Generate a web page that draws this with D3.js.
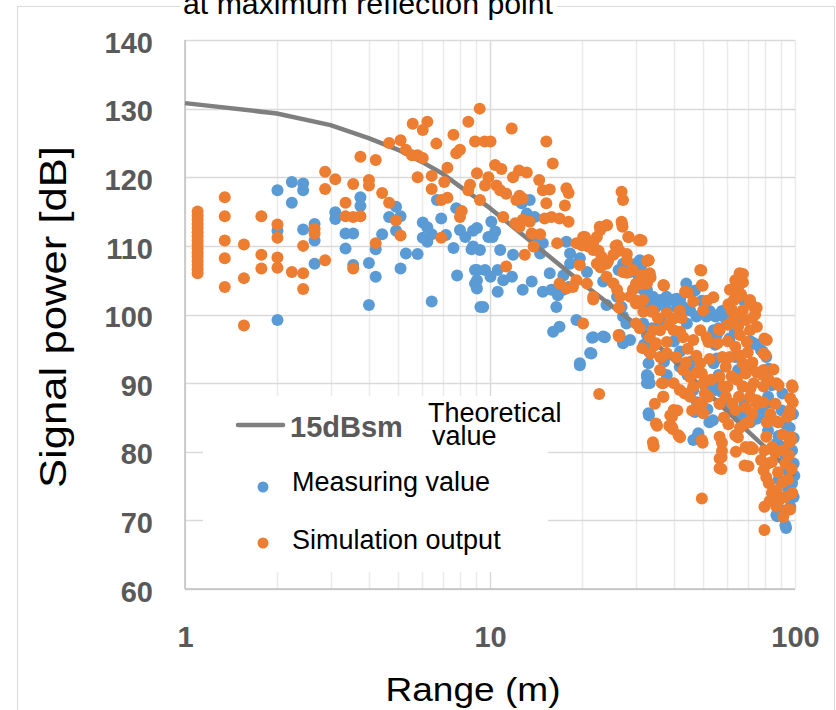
<!DOCTYPE html>
<html><head><meta charset="utf-8">
<script src="https://cdn.jsdelivr.net/npm/d3@7"></script>
<style>
html,body{margin:0;padding:0;background:#fff;}
svg{display:block;}
text{font-family:"Liberation Sans",Arial,sans-serif;}
</style></head>
<body>
<svg id="chart" width="836" height="710"></svg>
<script>
// ---------------- data ----------------
const titleText = "at maximum reflection point";
const xTickValues = [1, 10, 100];
const yTickValues = [60, 70, 80, 90, 100, 110, 120, 130, 140];
const legendLabels = ["15dBsm", "Theoretical", "value", "Measuring value", "Simulation output"];

// Theoretical value (15dBsm)
const theoRange = [1, 2, 3, 4, 5, 6, 7, 8, 9, 10, 20, 30, 40, 50, 60, 70, 80, 90, 100];
const theoPower = [130.8, 129.3, 127.6, 125.7, 124.0, 122.2, 120.5, 118.6, 117.0, 115.5, 104.6, 98.6, 93.3, 89.2, 85.9, 83.0, 80.6, 78.5, 76.5];

// Measuring value [range m, power dB]
const measured = [
[2.01,118.1],[2.24,119.3],[2.24,116.3],[2.44,119.1],[2.44,118.1],[2.01,112.2],[2.01,99.2],[2.44,112.4],[2.66,113.2],[2.66,110.8],[2.66,107.4],[3.11,114.9],[3.11,113.9],[3.36,111.8],[3.56,111.8],[3.36,109.6],[3.56,107.2],[3.76,117.1],[3.76,115.8],[4.01,107.5],[4.01,101.4],[4.22,109.5],[4.22,105.5],[4.43,111.7],[4.67,114.2],[4.92,115.7],[4.92,112.2],[5.09,114.3],[5.09,106.7],[5.30,108.9],[5.79,108.8],[6.02,113.4],[6.23,112.7],[6.02,111.2],[6.23,110.6],[6.44,111.7],[6.44,101.9],[6.7,116.7],[6.92,114.0],[7.17,111.6],[7.59,109.7],[7.75,115.5],[7.8,105.7],[7.97,112.3],[8.3,111.3],[8.8,112.2],[8.7,109.5],[9.06,106.5],[8.93,104.5],[9.06,103.8],[9.3,101.1],
[10.1,113.5],[9.06,112.6],[10.4,112.1],[10.2,111.3],[9.88,111.3],[9.27,109.4],[8.8,109.9],[10.8,109.4],[11.9,108.7],[8.93,106.5],[9.63,106.5],[9.06,105.0],[10.04,105.5],[10.6,106.5],[11.05,105.0],[11.8,105.5],[10.6,103.3],[9.5,101.1],[12.8,103.6],[13.7,104.8],[14.9,103.3],[16.5,101.1],[16.1,97.5],[16.9,98.2],[12.7,116.2],[13.5,116.7],[13.2,114.7],[14.0,114.2],[14.2,110.4],[14.9,110.4],[14.6,108.9],[15.7,106.0],[17.4,105.7],[15.9,103.6],[17.4,103.6],[16.7,102.8],[18.1,104.0],[17.8,110.6],[18.3,107.4],[19.7,108.2],[20.8,106.2],[18.3,108.9],[19.2,99.2],[21.8,96.7],[23.8,96.7],[21.5,94.3],[19.7,92.9],[23.5,104.8],[24.1,101.4],[27.0,101.1],[26.1,102.6],[27.3,107.4],[30.1,107.4],[30.5,106.0],[28.8,106.2],[26.4,106.5],[27.3,99.7],[28.0,98.7],[27.3,95.8],[28.8,96.3],[32.7,103.6],[33.9,102.1],[36.1,101.9],[37.9,102.6],[35.0,101.1],[31.8,98.7],[33.1,97.7],[33.9,95.3],[33.1,90.9],[33.4,90.0],[33.1,85.6],
[21.6,96.6],[23.5,96.8],[21.3,94.4],[19.7,92.6],[33.2,85.3],[48.0,82.3],[31.2,106.9],[30.8,105.4],[32.7,102.9],[35.3,102.0],[38.0,102.0],[40.1,102.2],[42.0,102.2],[41.1,101.0],[36.3,99.0],[34.0,98.0],[32.7,97.0],[32.0,95.6],[33.2,94.6],[32.7,91.2],[27.3,96.1],[26.6,97.0],[56.2,100.0],[57.6,100.5],[56.2,98.0],[55.4,97.0],[54.7,95.6],[55.4,93.6],[56.2,91.2],[57.6,88.7],[60.2,87.2],[62.0,86.2],[66.6,85.3],[71.4,84.3],[74.9,84.8],[78.3,86.2],[82.1,87.2],[83.8,89.7],[82.1,92.1],[78.3,94.6],[74.9,95.6],[71.4,96.1],[42.0,100.5],[45.6,93.1],[44.4,91.2],[46.3,89.2],[47.7,87.2],[51.6,89.2],[51.6,86.2],[52.4,84.3],[42.0,94.6],[40.1,96.1],[37.2,93.1],[38.0,91.2],[83.8,84.8],[88.3,82.3],[89.8,80.8],
[31.0,107.9],[31.8,103.6],[34.2,102.6],[36.1,102.1],[39.5,102.1],[41.0,102.3],[38.0,100.6],[32.7,101.1],[43.0,101.1],[45.3,100.6],[44.2,98.7],[47.5,99.7],[51.3,99.7],[33.1,92.9],[32.7,90.9],[32.7,90.0],[40.8,93.8],[41.9,92.4],[45.3,91.9],[46.4,89.0],[47.0,85.8],[53.8,84.6],[48.2,82.7],[46.4,81.7],[54.9,99.7],[54.1,97.7],[54.9,95.8],[54.1,92.9],[55.7,90.4],[54.9,89.0],[56.6,87.0],[63.7,93.8],[65.1,91.9],[67.4,89.5],[68.3,87.0],[65.1,85.1],[73.3,95.8],[77.4,94.8],[80.5,93.8],[80.5,90.9],[81.6,88.0],[81.0,85.1],[81.6,83.1],[86.9,81.2],[93.0,79.3],[94.3,77.3],[97.8,75.4],[99.0,73.4],[96.5,72.0],[86.9,70.8],[93.0,69.3],[99.0,78.3],[97.8,80.2],[93.5,68.9],[87.5,70.6],
[90.5,86.0],[93.5,84.0],[96.0,83.5],[99.0,82.0],[98.5,85.5],[91.0,88.5],[99.5,76.5],[95.0,74.5],[88.5,76.0],[90.0,71.5],[59.0,99.5],[61.0,96.5],[63.5,97.5],[66.0,99.5],[68.0,102.0],[44.0,104.5],[47.0,103.5],[49.5,102.0],[52.5,100.5]
];

// Simulation output [range m, power dB]
const simulated = [
[1.1,115.0],[1.1,114.4],[1.1,113.8],[1.1,113.2],[1.1,112.6],[1.1,112.0],[1.1,111.4],[1.1,110.8],[1.1,110.2],[1.1,109.6],[1.1,109.0],[1.1,108.4],[1.1,107.8],[1.1,107.2],[1.1,106.6],[1.1,106.0],
[1.35,117.1],[1.35,114.3],[1.35,110.8],[1.35,108.2],[1.35,104.0],[1.56,110.2],[1.56,105.3],[1.56,98.4],[1.78,114.3],[1.78,108.7],[1.78,106.7],[2.01,113.1],[2.01,111.2],[2.01,108.3],[2.01,106.8],[2.24,106.2],[2.44,110.0],[2.44,106.0],[2.44,103.7],[2.66,111.8],[2.66,112.5],[2.88,120.8],[2.88,118.3],[3.11,119.7],[2.88,107.9],[3.36,116.3],[3.36,114.3],[3.56,119.0],[3.56,114.2],[3.56,106.7],[3.76,123.0],[3.76,114.3],[4.01,119.6],[4.01,118.8],[4.22,122.5],[4.22,110.4],[4.43,117.7],[4.67,125.0],[4.67,116.3],[4.92,113.7],[5.09,125.4],[5.09,111.5],[5.30,124.0],[5.55,123.2],[5.79,123.2],[6.02,122.8],[5.58,127.8],[6.02,126.9],[6.23,128.1],[5.79,120.0],[6.44,120.2],[6.44,118.3],[6.67,124.9],[6.92,116.7],[6.92,111.2],[7.08,119.3],[7.25,117.0],[7.25,121.4],[7.59,126.2],[7.75,123.5],[7.97,124.0],[8.49,128.1],[8.08,115.1],[7.97,114.2],[8.93,125.2],[9.06,120.6],[8.6,118.9],[8.49,118.1],[9.25,130.0],
[9.6,125.2],[10.04,125.2],[11.78,127.1],[15.3,125.2],[16.06,122.0],[10.39,121.8],[10.9,121.2],[9.88,120.0],[11.9,120.0],[12.45,121.0],[13.2,120.7],[14.5,119.6],[9.63,118.8],[10.5,118.8],[10.8,118.1],[11.3,117.6],[12.5,117.3],[12.8,116.9],[14.9,118.1],[15.7,118.2],[17.8,118.4],[18.1,117.7],[9.27,116.7],[12.2,116.7],[15.3,116.2],[17.6,115.9],[11.05,114.2],[12.1,113.3],[12.8,113.8],[13.5,113.5],[15.1,114.0],[15.9,114.2],[16.9,114.0],[18.1,113.5],[12.5,112.8],[13.7,111.8],[14.6,111.7],[13.9,109.9],[13.0,108.7],[11.3,107.0],[16.6,110.4],
[27.0,117.9],[27.3,116.7],[22.9,112.8],[24.1,113.0],[27.0,113.5],[27.2,112.8],[28.4,111.3],[31.0,110.9],[20.2,111.3],[19.2,110.4],[20.0,110.1],[21.0,109.9],[21.8,109.4],[22.4,111.3],[26.1,110.1],[25.4,108.7],[23.2,108.4],[24.1,107.4],[22.4,107.4],[28.1,107.9],[27.3,106.2],[29.4,106.5],[33.1,107.9],[31.4,105.7],[33.4,105.7],[30.1,104.5],[19.7,107.2],[20.8,104.5],[21.8,102.6],[16.9,104.5],[17.8,103.8],[18.7,104.0],[19.2,105.0],[24.1,105.5],[25.4,104.5],[26.1,103.6],[26.7,102.6],[29.4,103.6],[28.8,102.6],[30.1,101.6],[31.8,102.1],[33.9,100.4],[31.8,100.4],[30.1,98.7],[31.0,98.0],[26.4,97.0],[20.2,98.7],[22.8,88.4],[34.2,97.7],[35.0,95.8],[33.6,94.3],[36.6,93.8],[36.1,91.9],[36.6,90.0],[34.7,87.0],[35.0,84.1],[34.2,81.4],[37.0,88.0],
[27.1,113.2],[24.2,113.0],[23.0,112.3],[20.5,111.3],[28.5,111.3],[30.8,110.8],[25.8,110.0],[21.8,110.5],[22.7,109.3],[26.6,109.3],[24.4,107.8],[28.1,108.8],[32.7,107.8],[23.0,106.9],[28.1,106.1],[33.6,105.4],[31.2,104.4],[37.2,104.2],[21.8,102.2],[26.5,101.0],[30.3,102.0],[49.3,106.4],[49.8,104.2],[44.4,103.2],[26.5,96.8],[31.6,95.1],[34.4,80.8],[35.3,83.8],[38.7,83.8],[39.7,83.3],[42.0,82.1],[41.1,86.0],[39.0,85.3],[49.8,81.3],[57.6,81.3],[57.6,80.1],[65.0,82.1],[71.0,80.4],[67.5,105.9],[67.5,104.7],[63.5,103.9],[66.6,102.9],[71.4,101.7],[74.9,101.0],[74.0,100.0],[62.0,100.5],[60.2,98.5],[56.2,97.8],[60.2,96.1],[80.8,96.3],[80.0,94.1],[88.3,89.7],[98.3,89.4],[98.3,87.2],[95.9,85.3],[88.3,84.3],[80.8,84.3],[78.8,87.2],[74.9,91.6],[78.3,91.2],[71.4,89.2],[74.9,87.0],[70.5,84.3],[72.8,80.4],[86.3,79.9],[95.9,81.3],[97.4,81.8],
[31.4,110.8],[33.1,107.9],[33.4,106.0],[31.8,105.0],[32.7,104.5],[37.0,104.3],[43.6,103.3],[41.9,100.6],[46.4,101.9],[50.0,100.6],[48.9,106.5],[49.5,104.3],[34.2,100.6],[38.0,100.2],[40.0,99.4],[36.1,97.7],[33.4,96.7],[34.7,95.5],[38.0,96.0],[40.0,97.7],[43.0,96.7],[46.4,96.3],[48.9,97.7],[51.3,96.7],[36.1,93.8],[38.0,94.3],[40.8,93.8],[43.0,91.9],[45.3,90.9],[37.0,90.0],[40.0,90.0],[41.9,89.0],[37.0,88.0],[40.0,86.1],[39.5,85.1],[39.5,83.6],[41.5,82.4],[48.9,92.9],[49.5,91.4],[50.0,90.0],[50.6,88.5],[49.5,87.0],[50.0,85.6],[49.5,81.7],[49.5,73.2],[46.4,89.5],[45.3,88.0],[48.2,87.0],[56.6,97.7],[55.7,95.8],[57.8,93.8],[59.3,92.4],[56.6,90.9],[58.4,89.5],[56.6,87.0],[59.3,88.0],[62.3,87.0],[63.7,86.1],[56.6,82.2],[56.6,79.0],[56.6,77.6],[63.7,82.4],[61.2,103.6],[63.7,105.0],[65.1,103.6],[63.0,102.1],[65.8,106.0],[65.1,102.6],[62.3,100.6],[67.4,100.6],[71.2,102.1],[73.3,101.1],[68.9,99.2],[65.1,98.2],[71.2,97.7],[75.0,98.2],[61.2,93.8],[63.7,95.3],[67.4,92.9],[68.9,91.4],[73.3,90.0],[67.4,89.5],[71.2,88.0],[75.0,87.5],[78.9,89.5],[78.9,91.9],[68.9,84.1],[68.9,80.7],[68.3,78.0],[79.4,96.5],[78.9,94.3],[86.9,90.0],[86.2,87.0],[86.9,84.4],[97.8,89.7],[96.5,87.8],[96.5,86.1],[94.3,85.1],[79.4,80.2],[81.6,78.3],[80.5,76.3],[82.1,75.4],[86.9,74.4],[93.0,73.4],[94.3,71.5],[79.4,72.0],[86.9,72.0],[79.4,68.6],[93.0,78.3],[90.9,80.2],[96.5,82.2],[77.4,78.8],[78.9,77.3],[80.5,82.2],[84.2,80.7],
[96.4,71.6],[57.4,77.5],[57.4,79.2],[70.4,77.9],[71.6,80.7],[38.9,83.7],
[60.5,101.5],[62.5,99.0],[64.0,100.0],[66.0,97.0],[69.5,96.0],[72.5,99.5],[70.0,94.5],[66.0,94.0],[64.5,90.5],[70.5,92.5],[72.5,93.0],[62.0,91.0],[60.0,89.5],[65.5,88.0],[69.0,86.5],[72.5,85.5],[66.0,83.5],[64.0,80.0],[60.5,84.0],[58.5,85.0],
[42.5,99.5],[44.5,95.0],[47.5,94.0],[44.0,93.0],[47.5,91.5],[52.5,93.5],[53.0,90.5],[52.0,88.0],[43.5,88.5],[46.0,86.0],[52.0,96.0],[51.5,102.0],[54.0,102.5],[38.5,98.5],[35.5,99.5],[42.0,97.5],
[84.0,78.5],[88.0,77.0],[91.0,75.5],[95.0,76.0],[97.5,77.5],[89.0,73.0],[84.0,74.0],[82.5,72.8],[91.5,70.5],[98.0,74.0],[95.5,79.5],[91.0,82.5],[83.0,85.5],[85.0,92.0],[82.0,90.5]
];

// ---------------- drawing ----------------
const svg = d3.select("#chart");
const m = {left: 185, right: 795, top: 40, bottom: 589};

const x = d3.scaleLog().domain([1, 100]).range([m.left, m.right]);
const y = d3.scaleLinear().domain([60, 140]).range([m.bottom, m.top]);

// outer chart border
svg.append("rect").attr("x", 17.5).attr("y", 6.5).attr("width", 817).attr("height", 720)
  .attr("fill", "none").attr("stroke", "#d9d9d9").attr("stroke-width", 1);

// vertical gridlines
svg.append("g").selectAll("line").data(x.ticks()).join("line")
  .attr("x1", d => Math.round(x(d)) + 0.5).attr("x2", d => Math.round(x(d)) + 0.5)
  .attr("y1", m.top).attr("y2", m.bottom)
  .attr("stroke", d => (d === 10 ? "#d9d9d9" : "#ebebeb")).attr("stroke-width", 1.5);

// horizontal gridlines
svg.append("g").selectAll("line").data(yTickValues).join("line")
  .attr("x1", m.left).attr("x2", m.right)
  .attr("y1", d => Math.round(y(d)) + 0.5).attr("y2", d => Math.round(y(d)) + 0.5)
  .attr("stroke", "#d9d9d9").attr("stroke-width", 1.5);

// axis lines
svg.append("line").attr("x1", m.left).attr("x2", m.left).attr("y1", m.top).attr("y2", m.bottom)
  .attr("stroke", "#bfbfbf").attr("stroke-width", 1.5);
svg.append("line").attr("x1", m.left).attr("x2", m.right).attr("y1", m.bottom).attr("y2", m.bottom)
  .attr("stroke", "#bfbfbf").attr("stroke-width", 1.5);

// axes (labels only)
const xAxis = d3.axisBottom(x).tickValues(xTickValues).tickSize(0).tickPadding(37).tickFormat(d3.format("d"));
const gxa = svg.append("g").attr("transform", `translate(0,${m.bottom})`).call(xAxis);
gxa.select(".domain").remove();
gxa.selectAll("text").attr("font-family", "Liberation Sans, Arial, sans-serif")
  .attr("font-size", 29).attr("font-weight", "bold").attr("fill", "#595959");

const yAxis = d3.axisLeft(y).tickValues(yTickValues).tickSize(0).tickPadding(32).tickFormat(d3.format("d"));
const gya = svg.append("g").attr("transform", `translate(${m.left},0)`).call(yAxis);
gya.select(".domain").remove();
gya.selectAll("text").attr("font-family", "Liberation Sans, Arial, sans-serif")
  .attr("font-size", 29).attr("font-weight", "bold").attr("fill", "#595959").attr("dy", "0.42em");

// points
const R = 6;
svg.append("g").selectAll("circle").data(measured).join("circle")
  .attr("cx", d => x(d[0])).attr("cy", d => y(d[1])).attr("r", R).attr("fill", "#5b9bd5");

// theoretical line
const line = d3.line().x((d, i) => x(theoRange[i])).y(d => y(d));
svg.append("path").datum(theoPower).attr("d", line)
  .attr("fill", "none").attr("stroke", "#7f7f7f").attr("stroke-width", 4.5).attr("stroke-linejoin", "round");

svg.append("g").selectAll("circle").data(simulated).join("circle")
  .attr("cx", d => x(d[0])).attr("cy", d => y(d[1])).attr("r", R).attr("fill", "#ed7d31");

// title (partially cut off at top)
svg.append("rect").attr("x", 180).attr("y", 0).attr("width", 377).attr("height", 16).attr("fill", "#fff");
svg.append("text").attr("x", 183).attr("y", 14).attr("font-size", 30).attr("fill", "#000")
  .attr("textLength", 370).attr("lengthAdjust", "spacingAndGlyphs").text(titleText);

// axis titles
svg.append("text").attr("transform", "translate(66,317) rotate(-90)").attr("text-anchor", "middle")
  .attr("font-size", 36).attr("fill", "#000").attr("textLength", 342).attr("lengthAdjust", "spacingAndGlyphs")
  .text("Signal power [dB]");
svg.append("text").attr("x", 473).attr("y", 701).attr("text-anchor", "middle")
  .attr("font-size", 34).attr("fill", "#000").attr("textLength", 175).attr("lengthAdjust", "spacingAndGlyphs")
  .text("Range (m)");

// legend
const lg = svg.append("g");
lg.append("rect").attr("x", 203).attr("y", 396).attr("width", 345).attr("height", 176).attr("fill", "#fff");
lg.append("line").attr("x1", 238).attr("x2", 283).attr("y1", 425).attr("y2", 425)
  .attr("stroke", "#7f7f7f").attr("stroke-width", 4.5).attr("stroke-linecap", "round");
lg.append("text").attr("x", 290).attr("y", 437).attr("font-size", 29).attr("font-weight", "bold")
  .attr("fill", "#595959").text(legendLabels[0]);
lg.append("text").attr("x", 428).attr("y", 422).attr("font-size", 27).attr("fill", "#000").text(legendLabels[1]);
lg.append("text").attr("x", 432).attr("y", 445).attr("font-size", 27).attr("fill", "#000").text(legendLabels[2]);
lg.append("circle").attr("cx", 263).attr("cy", 487).attr("r", 5.5).attr("fill", "#5b9bd5");
lg.append("text").attr("x", 292).attr("y", 491).attr("font-size", 27).attr("fill", "#000").text(legendLabels[3]);
lg.append("circle").attr("cx", 263).attr("cy", 543).attr("r", 5.5).attr("fill", "#ed7d31");
lg.append("text").attr("x", 292).attr("y", 549).attr("font-size", 27).attr("fill", "#000").text(legendLabels[4]);
</script>
</body></html>
